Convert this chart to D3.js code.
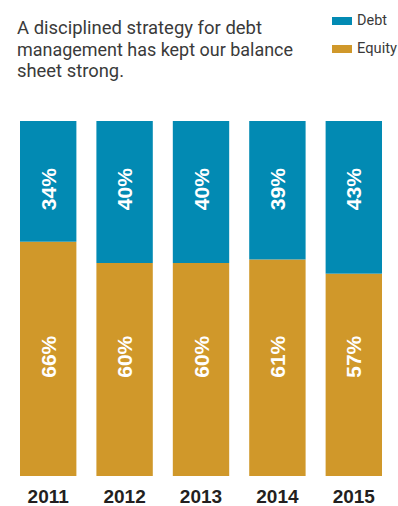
<!DOCTYPE html>
<html>
<head>
<meta charset="utf-8">
<script src="https://cdn.jsdelivr.net/npm/d3@7"></script>
<style>
  html, body { margin: 0; padding: 0; background: #fff; }
  svg { display: block; }
</style>
</head>
<body>
<svg id="chart" width="398" height="506"></svg>
<script>
const years = ["2011", "2012", "2013", "2014", "2015"];
const debt = [34, 40, 40, 39, 43];
const equity = [66, 60, 60, 61, 57];
const seriesNames = ["Debt", "Equity"];
const titleLines = ["A disciplined strategy for debt", "management has kept our balance", "sheet strong."];

const colors = { Debt: "#028ab3", Equity: "#d0982a" };

const svg = d3.select("#chart");

const x = d3.scaleBand().domain(years).range([20, 382]).paddingInner(0.262).paddingOuter(0);
const y = d3.scaleLinear().domain([0, 100]).range([476, 121]);

const rows = years.map((yr, i) => ({ year: yr, Equity: equity[i], Debt: debt[i] }));
const stack = d3.stack().keys(["Equity", "Debt"]);
const layers = stack(rows);

svg.append("g").selectAll("g")
  .data(layers).join("g")
  .attr("fill", d => colors[d.key])
  .selectAll("rect")
  .data(d => d).join("rect")
  .attr("x", d => x(d.data.year))
  .attr("width", x.bandwidth())
  .attr("y", d => y(d[1]))
  .attr("height", d => y(d[0]) - y(d[1]));

// value labels (rotated), placed at fixed heights like the original
const labelPos = { Debt: 80.8, Equity: 33.6 };
layers.forEach(layer => {
  svg.append("g").selectAll("text")
    .data(layer).join("text")
    .attr("transform", d => `translate(${x(d.data.year) + x.bandwidth() / 2 + 7.5},${y(labelPos[layer.key])}) rotate(-90)`)
    .attr("text-anchor", "middle")
    .attr("font-family", "Liberation Sans, Arial, sans-serif")
    .attr("font-weight", "bold")
    .attr("font-size", 21)
    .attr("fill", "#fff")
    .text(d => (d[1] - d[0]) + "%");
});

// x axis labels
const xAxis = d3.axisBottom(x).tickSize(0).tickPadding(0);
const gx = svg.append("g").attr("transform", "translate(0,489)").call(xAxis);
gx.select(".domain").remove();
gx.selectAll("text")
  .attr("dy", "0.71em")
  .attr("y", 0)
  .attr("font-family", "Liberation Sans, Arial, sans-serif")
  .attr("font-weight", "bold")
  .attr("font-size", 19)
  .attr("fill", "#231f20");

// title
svg.append("g").selectAll("text")
  .data(titleLines).join("text")
  .attr("x", 17)
  .attr("y", (d, i) => 34 + i * 21.5)
  .attr("font-family", "Roboto, 'Noto Sans', sans-serif")
  .attr("font-size", 19)
  .attr("fill", "#3a3a3a")
  .attr("textLength", (d, i) => [245, 276, 107][i])
  .attr("lengthAdjust", "spacingAndGlyphs")
  .text(d => d);

// legend
const lg = svg.append("g").selectAll("g")
  .data(seriesNames).join("g")
  .attr("transform", (d, i) => `translate(332,${17 + i * 28})`);
lg.append("rect").attr("width", 20).attr("height", 8).attr("fill", d => colors[d]);
lg.append("text")
  .attr("x", 25).attr("y", 7.5)
  .attr("font-family", "Roboto, 'Noto Sans', sans-serif")
  .attr("font-size", 14)
  .attr("fill", "#3a3a3a")
  .attr("textLength", (d) => d === "Debt" ? 30 : 40)
  .attr("lengthAdjust", "spacingAndGlyphs")
  .text(d => d);
</script>
</body>
</html>
